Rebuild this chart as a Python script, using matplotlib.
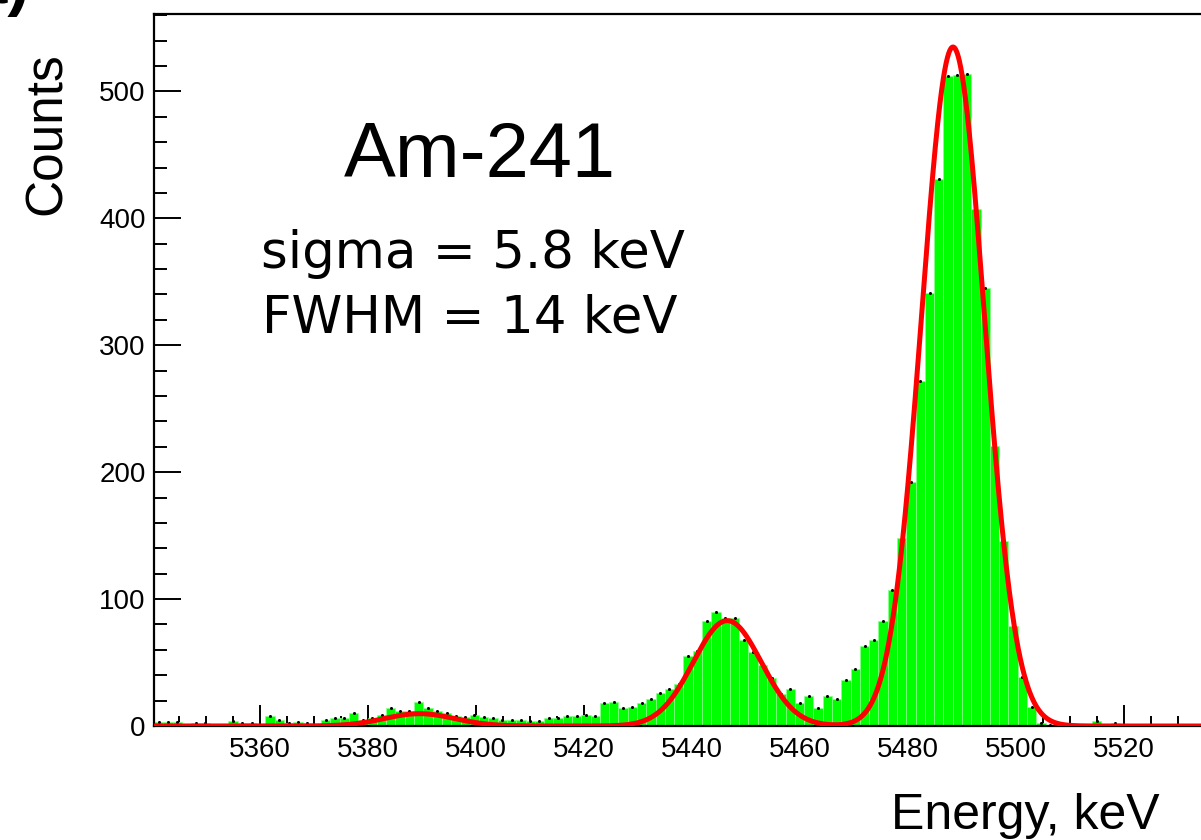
import numpy as np
import matplotlib
matplotlib.use('Agg')
import matplotlib.pyplot as plt
from matplotlib.ticker import MultipleLocator

# histogram binning (keV)
BIN_LO = 5340.34
BIN_W = 1.72

# counts per bin
counts = [
    3, 3, 3, 1, 2, 2, 1, 1, 4, 2,
    2, 1, 8, 5, 2, 3, 2, 1, 5, 6,
    6, 10, 5, 6, 9, 14, 12, 12, 19, 14,
    12, 10, 8, 7, 9, 7, 6, 5, 5, 5,
    4, 4, 6, 6, 8, 8, 9, 8, 18, 19,
    14, 15, 18, 21, 26, 29, 33, 55, 59, 83,
    90, 85, 85, 68, 58, 48, 38, 25, 29, 18,
    24, 14, 24, 21, 36, 45, 63, 68, 83, 107,
    148, 192, 272, 341, 431, 512, 513, 514, 407, 345,
    221, 146, 79, 39, 15, 2, 1, 0, 0, 0,
    0, 4, 0, 2, 0, 0, 0, 0, 0, 0,
    0, 0, 0, 0,
]

# fitted peaks: amplitude, mean (keV), sigma (keV)
fit_amp = [535, 83, 9.7]
fit_mu = [5488.3, 5446.5, 5389.5]
fit_sigma = [5.8, 6.3, 6.5]

XMIN, XMAX = 5340.34, 5535
YMIN, YMAX = 0, 561

W, H = 1201, 840
fig = plt.figure(figsize=(W / 100, H / 100), dpi=100)
# axes runs off the right edge, like the cropped original
ax = fig.add_axes([154 / W, 114 / H, (XMAX - XMIN) * 5.4 / W, 712 / H])

counts = np.array(counts, dtype=float)
centers = BIN_LO + BIN_W * (np.arange(len(counts)) + 0.5)

ax.bar(centers, counts, width=BIN_W, color='#00ff00',
       edgecolor='#8cff8c', linewidth=0.5, zorder=2)
nz = counts > 0
ax.plot(centers[nz], counts[nz], 'o', color='black', ms=2.2, mew=0, zorder=3)

x = np.linspace(XMIN, XMAX, 3000)
y = np.zeros_like(x)
for a, m, s in zip(fit_amp, fit_mu, fit_sigma):
    y += a * np.exp(-0.5 * ((x - m) / s) ** 2)
ax.plot(x, y, color='#ff0000', lw=3.6, zorder=4, solid_capstyle='butt')

ax.set_xlim(XMIN, XMAX)
ax.set_ylim(YMIN, YMAX)

ax.xaxis.set_major_locator(MultipleLocator(20))
ax.xaxis.set_minor_locator(MultipleLocator(5))
ax.yaxis.set_major_locator(MultipleLocator(100))
ax.yaxis.set_minor_locator(MultipleLocator(20))

ax.tick_params(axis='x', which='major', direction='in', length=15, width=1.4,
               pad=8, labelsize=20)
ax.tick_params(axis='x', which='minor', direction='in', length=7.2, width=1.4)
ax.tick_params(axis='y', which='major', direction='in', length=19.4, width=1.4,
               pad=6, labelsize=20)
ax.tick_params(axis='y', which='minor', direction='in', length=9.4, width=1.4)
for lab in ax.get_xticklabels() + ax.get_yticklabels():
    lab.set_family('Liberation Sans')
for sp in ax.spines.values():
    sp.set_linewidth(1.6)

def fx(px):
    return px / W

def fy(py):
    return 1 - py / H

fig.text(fx(480), fy(177), 'Am-241', ha='center', va='baseline',
         fontsize=56, family='Liberation Sans')
fig.text(fx(261), fy(268), 'sigma = 5.8 keV', ha='left', va='baseline',
         fontsize=37, family='DejaVu Sans')
fig.text(fx(262), fy(333), 'FWHM = 14 keV', ha='left', va='baseline',
         fontsize=37, family='DejaVu Sans')
fig.text(fx(1160), fy(829), 'Energy, keV', ha='right', va='baseline',
         fontsize=36, family='Liberation Sans')
fig.text(fx(47), fy(52), 'Counts', rotation=90, ha='center', va='top',
         fontsize=37, family='Liberation Sans')
# panel label, mostly cropped away in the original
fig.text(fx(30), fy(3), '(a)', ha='right', va='baseline',
         fontsize=48, fontweight='bold', family='Liberation Sans')

fig.savefig('out.png', dpi=100)
